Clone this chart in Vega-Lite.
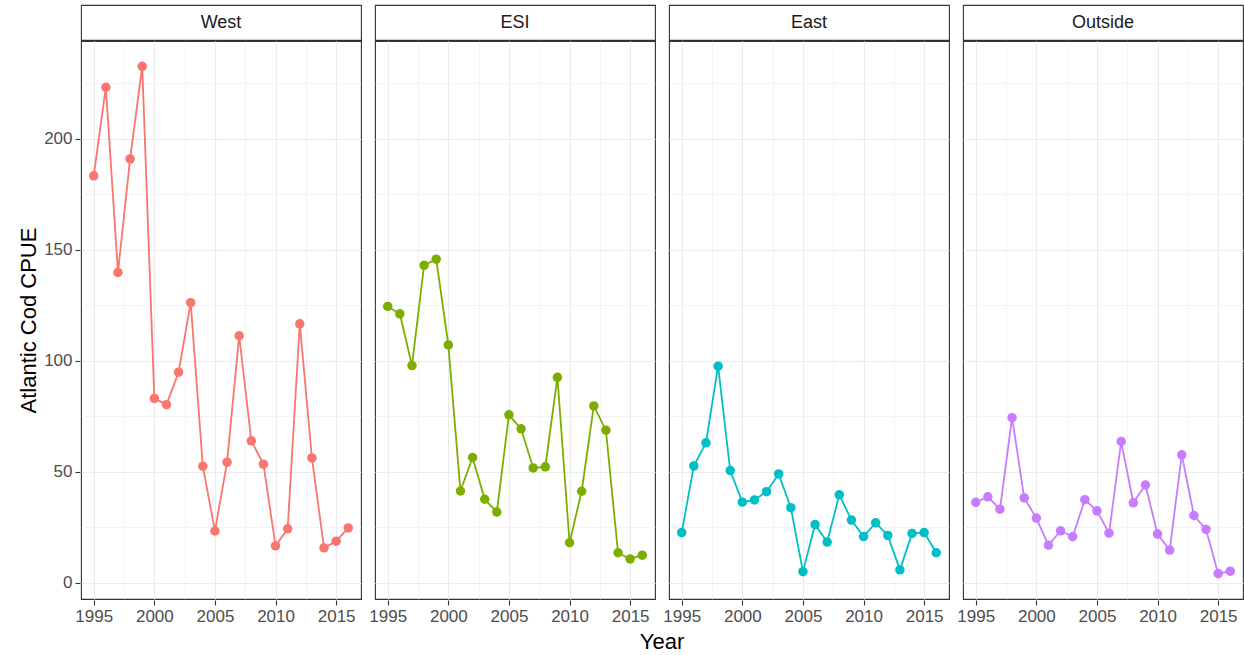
{
  "$schema": "https://vega.github.io/schema/vega-lite/v6.json",
  "padding": {"left": 17, "top": 4, "right": 5, "bottom": 0},
  "background": "white",
  "datasets": {
    "strips": [{"Region": "West"}, {"Region": "ESI"}, {"Region": "East"}, {"Region": "Outside"}],
    "cpue": [
      {"Region": "West", "Year": 1995, "CPUE": 183.3}, {"Region": "West", "Year": 1996, "CPUE": 223.2}, {"Region": "West", "Year": 1997, "CPUE": 139.8}, {"Region": "West", "Year": 1998, "CPUE": 190.9}, {"Region": "West", "Year": 1999, "CPUE": 232.6}, {"Region": "West", "Year": 2000, "CPUE": 83.1}, {"Region": "West", "Year": 2001, "CPUE": 80.3}, {"Region": "West", "Year": 2002, "CPUE": 94.9}, {"Region": "West", "Year": 2003, "CPUE": 126.2}, {"Region": "West", "Year": 2004, "CPUE": 52.6}, {"Region": "West", "Year": 2005, "CPUE": 23.4}, {"Region": "West", "Year": 2006, "CPUE": 54.4}, {"Region": "West", "Year": 2007, "CPUE": 111.3}, {"Region": "West", "Year": 2008, "CPUE": 64.0}, {"Region": "West", "Year": 2009, "CPUE": 53.5}, {"Region": "West", "Year": 2010, "CPUE": 16.7}, {"Region": "West", "Year": 2011, "CPUE": 24.4}, {"Region": "West", "Year": 2012, "CPUE": 116.7}, {"Region": "West", "Year": 2013, "CPUE": 56.3}, {"Region": "West", "Year": 2014, "CPUE": 15.8}, {"Region": "West", "Year": 2015, "CPUE": 18.8}, {"Region": "West", "Year": 2016, "CPUE": 24.8},
      {"Region": "ESI", "Year": 1995, "CPUE": 124.5}, {"Region": "ESI", "Year": 1996, "CPUE": 121.2}, {"Region": "ESI", "Year": 1997, "CPUE": 97.9}, {"Region": "ESI", "Year": 1998, "CPUE": 143.0}, {"Region": "ESI", "Year": 1999, "CPUE": 145.8}, {"Region": "ESI", "Year": 2000, "CPUE": 107.2}, {"Region": "ESI", "Year": 2001, "CPUE": 41.4}, {"Region": "ESI", "Year": 2002, "CPUE": 56.5}, {"Region": "ESI", "Year": 2003, "CPUE": 37.7}, {"Region": "ESI", "Year": 2004, "CPUE": 31.9}, {"Region": "ESI", "Year": 2005, "CPUE": 75.7}, {"Region": "ESI", "Year": 2006, "CPUE": 69.4}, {"Region": "ESI", "Year": 2007, "CPUE": 51.8}, {"Region": "ESI", "Year": 2008, "CPUE": 52.3}, {"Region": "ESI", "Year": 2009, "CPUE": 92.6}, {"Region": "ESI", "Year": 2010, "CPUE": 18.1}, {"Region": "ESI", "Year": 2011, "CPUE": 41.3}, {"Region": "ESI", "Year": 2012, "CPUE": 79.7}, {"Region": "ESI", "Year": 2013, "CPUE": 68.8}, {"Region": "ESI", "Year": 2014, "CPUE": 13.6}, {"Region": "ESI", "Year": 2015, "CPUE": 10.8}, {"Region": "ESI", "Year": 2016, "CPUE": 12.5},
      {"Region": "East", "Year": 1995, "CPUE": 22.7}, {"Region": "East", "Year": 1996, "CPUE": 52.7}, {"Region": "East", "Year": 1997, "CPUE": 63.1}, {"Region": "East", "Year": 1998, "CPUE": 97.6}, {"Region": "East", "Year": 1999, "CPUE": 50.6}, {"Region": "East", "Year": 2000, "CPUE": 36.4}, {"Region": "East", "Year": 2001, "CPUE": 37.4}, {"Region": "East", "Year": 2002, "CPUE": 41.1}, {"Region": "East", "Year": 2003, "CPUE": 49.1}, {"Region": "East", "Year": 2004, "CPUE": 33.9}, {"Region": "East", "Year": 2005, "CPUE": 5.1}, {"Region": "East", "Year": 2006, "CPUE": 26.3}, {"Region": "East", "Year": 2007, "CPUE": 18.4}, {"Region": "East", "Year": 2008, "CPUE": 39.7}, {"Region": "East", "Year": 2009, "CPUE": 28.3}, {"Region": "East", "Year": 2010, "CPUE": 20.9}, {"Region": "East", "Year": 2011, "CPUE": 27.1}, {"Region": "East", "Year": 2012, "CPUE": 21.4}, {"Region": "East", "Year": 2013, "CPUE": 5.9}, {"Region": "East", "Year": 2014, "CPUE": 22.3}, {"Region": "East", "Year": 2015, "CPUE": 22.7}, {"Region": "East", "Year": 2016, "CPUE": 13.6},
      {"Region": "Outside", "Year": 1995, "CPUE": 36.3}, {"Region": "Outside", "Year": 1996, "CPUE": 38.8}, {"Region": "Outside", "Year": 1997, "CPUE": 33.2}, {"Region": "Outside", "Year": 1998, "CPUE": 74.4}, {"Region": "Outside", "Year": 1999, "CPUE": 38.3}, {"Region": "Outside", "Year": 2000, "CPUE": 29.2}, {"Region": "Outside", "Year": 2001, "CPUE": 17.0}, {"Region": "Outside", "Year": 2002, "CPUE": 23.5}, {"Region": "Outside", "Year": 2003, "CPUE": 20.8}, {"Region": "Outside", "Year": 2004, "CPUE": 37.5}, {"Region": "Outside", "Year": 2005, "CPUE": 32.5}, {"Region": "Outside", "Year": 2006, "CPUE": 22.4}, {"Region": "Outside", "Year": 2007, "CPUE": 63.7}, {"Region": "Outside", "Year": 2008, "CPUE": 36.1}, {"Region": "Outside", "Year": 2009, "CPUE": 44.1}, {"Region": "Outside", "Year": 2010, "CPUE": 22.0}, {"Region": "Outside", "Year": 2011, "CPUE": 14.8}, {"Region": "Outside", "Year": 2012, "CPUE": 57.7}, {"Region": "Outside", "Year": 2013, "CPUE": 30.4}, {"Region": "Outside", "Year": 2014, "CPUE": 24.1}, {"Region": "Outside", "Year": 2015, "CPUE": 4.2}, {"Region": "Outside", "Year": 2016, "CPUE": 5.3}
    ]
  },
  "spacing": -2,
  "vconcat": [
    {
      "data": {"name": "strips"},
      "facet": {"column": {"field": "Region", "sort": ["West", "ESI", "East", "Outside"], "header": null}},
      "spacing": {"column": 12},
      "spec": {
        "width": 280,
        "height": 35,
        "mark": {"type": "text", "fontSize": 18, "font": "Liberation Sans", "color": "#1A1A1A", "baseline": "middle", "align": "center"},
        "encoding": {
          "text": {"field": "Region", "type": "nominal"},
          "y": {
            "datum": 1, "type": "quantitative",
            "scale": {"domain": [0, 2]},
            "axis": {"values": [1], "labels": false, "ticks": false, "grid": false, "title": null, "minExtent": 62, "maxExtent": 62}
          }
        }
      }
    },
    {
      "data": {"name": "cpue"},
      "facet": {
        "column": {
          "field": "Region",
          "sort": ["West", "ESI", "East", "Outside"],
          "title": "Year",
          "header": {"labels": false, "titleOrient": "bottom", "titleFontSize": 22, "titleFont": "Liberation Sans", "titleFontWeight": "normal", "titleColor": "#000000", "titlePadding": -2}
        }
      },
      "spacing": {"column": 12},
      "spec": {
        "width": 280,
        "height": 558,
        "encoding": {
          "x": {
            "field": "Year", "type": "quantitative",
            "scale": {"domain": [1993.95, 2017.05], "nice": false, "zero": false},
            "axis": {
              "title": null,
              "values": [1995, 1997.5, 2000, 2002.5, 2005, 2007.5, 2010, 2012.5, 2015],
              "labelExpr": "datum.value % 5 == 0 ? format(datum.value, 'd') : ''",
              "gridWidth": {"condition": {"test": "datum.value % 5 == 0", "value": 1.1}, "value": 0.55},
              "tickOpacity": {"condition": {"test": "datum.value % 5 == 0", "value": 1}, "value": 0}
            }
          },
          "y": {
            "field": "CPUE", "type": "quantitative",
            "scale": {"domain": [-7.22, 244.02], "nice": false, "zero": false},
            "axis": {
              "title": "Atlantic Cod CPUE",
              "minExtent": 36, "maxExtent": 36,
              "values": [0, 25, 50, 75, 100, 125, 150, 175, 200, 225],
              "labelExpr": "datum.value % 50 == 0 ? format(datum.value, 'd') : ''",
              "gridWidth": {"condition": {"test": "datum.value % 50 == 0", "value": 1.1}, "value": 0.55},
              "tickOpacity": {"condition": {"test": "datum.value % 50 == 0", "value": 1}, "value": 0}
            }
          },
          "color": {
            "field": "Region", "type": "nominal",
            "scale": {"domain": ["West", "ESI", "East", "Outside"], "range": ["#F8766D", "#7CAE00", "#00BFC4", "#C77CFF"]},
            "legend": null
          }
        },
        "layer": [
          {"mark": {"type": "line", "strokeWidth": 1.8}},
          {"mark": {"type": "circle", "size": 90, "opacity": 1}}
        ]
      }
    }
  ],
  "config": {
    "view": {"stroke": "#333333", "strokeWidth": 1.1, "fill": "white"},
    "axis": {
      "domain": false,
      "grid": true,
      "gridColor": "#EBEBEB",
      "tickColor": "#333333",
      "tickSize": 5,
      "tickWidth": 1.1,
      "labelColor": "#4D4D4D",
      "labelFont": "Liberation Sans",
      "labelFontSize": 17,
      "titleFont": "Liberation Sans",
      "titleFontSize": 22,
      "titleFontWeight": "normal",
      "titleColor": "#000000"
    },
    "axisX": {"labelPadding": 3},
    "axisY": {"labelPadding": 3, "titlePadding": 4}
  }
}
